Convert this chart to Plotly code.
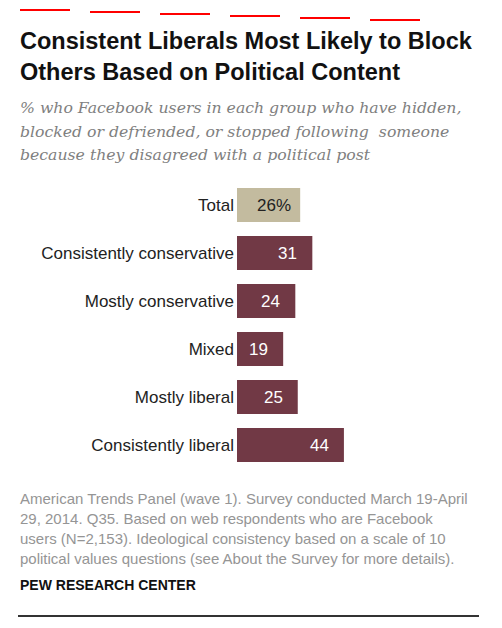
import plotly.graph_objects as go

categories = ["Total", "Consistently conservative", "Mostly conservative",
              "Mixed", "Mostly liberal", "Consistently liberal"]
values = [26, 31, 24, 19, 25, 44]
value_labels = ["26%", "31", "24", "19", "25", "44"]
bar_colors = ["#c3bb9f", "#713945", "#713945", "#713945", "#713945", "#713945"]
text_colors = ["#222222", "#ffffff", "#ffffff", "#ffffff", "#ffffff", "#ffffff"]

W, H = 502, 628
OFF = 8

def px(x):
    return (x - OFF) / W

def py(y):
    return 1 - (y - OFF) / H

fig = go.Figure()
fig.add_trace(go.Bar(
    y=categories, x=values, orientation="h",
    marker=dict(color=bar_colors, line=dict(width=0)),
    hoverinfo="skip",
))

for c, v, t, tc in zip(categories, values, value_labels, text_colors):
    fig.add_annotation(
        x=v, y=c, xref="x", yref="y", text=t, showarrow=False,
        xanchor="right", yanchor="middle", xshift=-7 if t.endswith("%") else -13,
        font=dict(family="Liberation Sans, Arial, sans-serif", size=17, color=tc),
    )

fig.update_layout(
    width=W, height=H,
    margin=dict(l=0, r=0, t=0, b=0),
    paper_bgcolor="white", plot_bgcolor="white",
    showlegend=False,
    bargap=1 - 34 / 48,
    xaxis=dict(domain=[px(237), px(480)], range=[0, 100], visible=False, fixedrange=True),
    yaxis=dict(domain=[py(469), py(181)], autorange="reversed", automargin=False,
               showgrid=False, zeroline=False, showline=False, ticks="",
               ticklabelstandoff=2, fixedrange=True,
               tickfont=dict(family="Liberation Sans, Arial, sans-serif", size=17, color="#222222")),
)

# debug markers at several screen y positions
for i, yy in enumerate([10, 12, 14, 16, 18, 20]):
    fig.add_shape(type="line", xref="paper", yref="paper",
                  x0=px(20 + 70 * i), x1=px(70 + 70 * i), y0=py(yy), y1=py(yy),
                  line=dict(color="red", width=2))
fig.add_shape(type="line", xref="paper", yref="paper",
              x0=px(18), x1=px(479), y0=py(616), y1=py(616),
              line=dict(color="#333333", width=2))

title_lines = ["Consistent Liberals Most Likely to Block", "Others Based on Political Content"]
for i, line in enumerate(title_lines):
    fig.add_annotation(x=px(18), y=py(41 + 31 * i), xref="paper", yref="paper",
                       text=f"<b>{line}</b>", showarrow=False, xanchor="left", yanchor="middle",
                       font=dict(family="Liberation Sans, Arial, sans-serif", size=23.5, color="#111111"))

subtitle_lines = ["% who Facebook users in each group who have hidden,",
                  "blocked or defriended, or stopped following  someone",
                  "because they disagreed with a political post"]
for i, line in enumerate(subtitle_lines):
    fig.add_annotation(x=px(18), y=py(108 + 23 * i), xref="paper", yref="paper",
                       text=f"<i>{line}</i>", showarrow=False, xanchor="left", yanchor="middle",
                       font=dict(family="DejaVu Serif, Georgia, serif", size=15.7, color="#808080"))

footer_lines = ["American Trends Panel (wave 1). Survey conducted March 19-April",
                "29, 2014. Q35. Based on web respondents who are Facebook",
                "users (N=2,153). Ideological consistency based on a scale of 10",
                "political values questions (see About the Survey for more details)."]
for i, line in enumerate(footer_lines):
    fig.add_annotation(x=px(18), y=py(498 + 20 * i), xref="paper", yref="paper",
                       text=line, showarrow=False, xanchor="left", yanchor="middle",
                       font=dict(family="Liberation Sans, Arial, sans-serif", size=15, color="#959595"))

fig.add_annotation(x=px(18), y=py(585), xref="paper", yref="paper",
                   text="<b>PEW RESEARCH CENTER</b>", showarrow=False, xanchor="left", yanchor="middle",
                   font=dict(family="Liberation Sans, Arial, sans-serif", size=14, color="#111111"))

fig.write_html("out.html", config={"displayModeBar": False})
